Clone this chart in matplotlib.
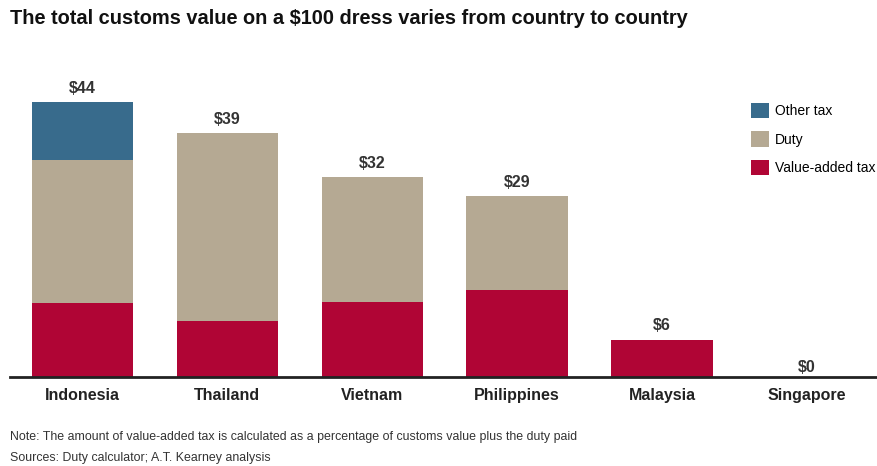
import matplotlib.pyplot as plt
import numpy as np

countries = ["Indonesia", "Thailand", "Vietnam", "Philippines", "Malaysia", "Singapore"]
vat = [11.8, 9.0, 12.0, 14.0, 6.0, 0.0]
duty = [23.0, 30.0, 20.0, 15.0, 0.0, 0.0]
other = [9.2, 0.0, 0.0, 0.0, 0.0, 0.0]
totals = [44, 39, 32, 29, 6, 0]

colors = {"Other tax": "#386b8c", "Duty": "#b5a993", "Value-added tax": "#b00535"}

plt.rcParams['font.family'] = ['Liberation Sans', 'DejaVu Sans']

fig = plt.figure(figsize=(8.78, 4.66), dpi=100)
ax = fig.add_axes([10/878, 1-377/466, 868/878, 312.5/466])

x = np.arange(len(countries))
w = 0.70
b1 = ax.bar(x, vat, w, color=colors["Value-added tax"], label="Value-added tax")
b2 = ax.bar(x, duty, w, bottom=vat, color=colors["Duty"], label="Duty")
b3 = ax.bar(x, other, w, bottom=np.array(vat)+np.array(duty), color=colors["Other tax"], label="Other tax")

# value labels above the stacks
for xi, t in zip(x, totals):
    off = 1.0 if t > 0 else 0.4
    ax.text(xi, t + off, f"${t}", ha='center', va='bottom', fontsize=11.5,
            fontweight='bold', color='#333333')

ax.set_xlim(-0.5, 5.49)
ax.set_ylim(0, 50)
ax.set_xticks(x)
ax.set_xticklabels(countries, fontsize=11.5, fontweight='bold', color='#222222')
ax.tick_params(axis='x', length=0, pad=8)
ax.set_yticks([])
for s in ['top', 'right', 'left']:
    ax.spines[s].set_visible(False)
ax.spines['bottom'].set_linewidth(2)
ax.spines['bottom'].set_color('#222222')

fig.legend(handles=[b3, b2, b1], labels=["Other tax", "Duty", "Value-added tax"],
           loc='upper left', bbox_to_anchor=(751/878, 1-103/466), frameon=False,
           fontsize=10, handlelength=1.3, handleheight=1.3, labelspacing=0.95,
           handletextpad=0.4, borderpad=0, borderaxespad=0)

fig.text(10/878, 1-19/466, "The total customs value on a $100 dress varies from country to country",
         fontsize=14.4, fontweight='bold', color='#111111', va='center', ha='left')
fig.text(10/878, 1-437/466, "Note: The amount of value-added tax is calculated as a percentage of customs value plus the duty paid",
         fontsize=8.9, color='#333333', va='center', ha='left')
fig.text(10/878, 1-458/466, "Sources: Duty calculator; A.T. Kearney analysis",
         fontsize=8.9, color='#333333', va='center', ha='left')

fig.savefig("out.png", dpi=100)
